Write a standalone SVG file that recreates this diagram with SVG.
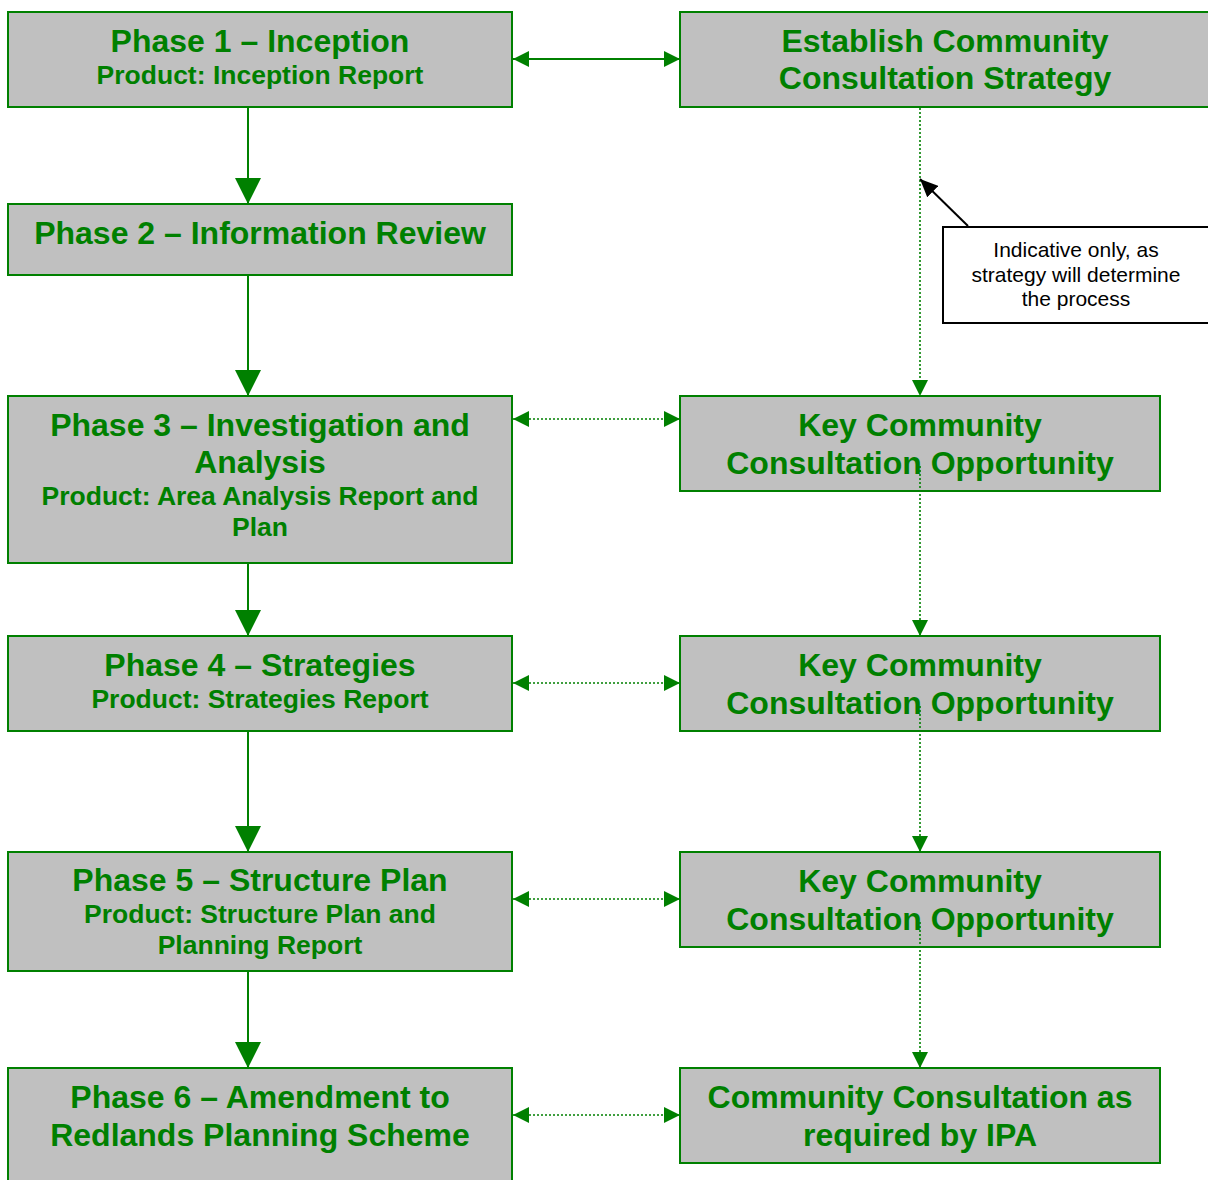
<svg xmlns="http://www.w3.org/2000/svg" width="1208" height="1180" viewBox="0 0 1208 1180">
<style>
.box{fill:#C0C0C0;stroke:#008000;stroke-width:2}
.t{font-family:"Liberation Sans",Arial,sans-serif;font-weight:bold;fill:#008000;text-anchor:middle}
.h{font-size:32px}
.s{font-size:26.5px}
.n{font-family:"Liberation Sans",Arial,sans-serif;font-size:21px;fill:#000;text-anchor:middle}
.solid{stroke:#008000;stroke-width:2;fill:none}
.dot{stroke:#008000;stroke-width:1.6;stroke-dasharray:2 2;fill:none}
</style>
<defs>
<marker id="big" markerUnits="userSpaceOnUse" markerWidth="26" markerHeight="26" refX="26" refY="13" orient="auto"><path d="M0,0 L26,13 L0,26 Z" fill="#008000"/></marker>
<marker id="sm" markerUnits="userSpaceOnUse" markerWidth="16" markerHeight="16" refX="16" refY="8" orient="auto-start-reverse"><path d="M0,0 L16,8 L0,16 Z" fill="#008000"/></marker>
<marker id="blk" markerUnits="userSpaceOnUse" markerWidth="18" markerHeight="16" refX="18" refY="8" orient="auto"><path d="M0,0 L18,8 L0,16 Z" fill="#000"/></marker>
</defs>
<g id="phase1"><rect class="box" x="8" y="12" width="504" height="95"/><text class="t h" x="260" y="52">Phase 1 – Inception</text><text class="t s" x="260" y="84">Product: Inception Report</text></g>
<g id="phase2"><rect class="box" x="8" y="204" width="504" height="71"/><text class="t h" x="260" y="244">Phase 2 – Information Review</text></g>
<g id="phase3"><rect class="box" x="8" y="396" width="504" height="167"/><text class="t h" x="260" y="436">Phase 3 – Investigation and</text><text class="t h" x="260" y="473">Analysis</text><text class="t s" x="260" y="505">Product: Area Analysis Report and</text><text class="t s" x="260" y="536">Plan</text></g>
<g id="phase4"><rect class="box" x="8" y="636" width="504" height="95"/><text class="t h" x="260" y="676">Phase 4 – Strategies</text><text class="t s" x="260" y="708">Product: Strategies Report</text></g>
<g id="phase5"><rect class="box" x="8" y="852" width="504" height="119"/><text class="t h" x="260" y="891">Phase 5 – Structure Plan</text><text class="t s" x="260" y="923">Product: Structure Plan and</text><text class="t s" x="260" y="954">Planning Report</text></g>
<g id="phase6"><rect class="box" x="8" y="1068" width="504" height="130"/><text class="t h" x="260" y="1108">Phase 6 – Amendment to</text><text class="t h" x="260" y="1146">Redlands Planning Scheme</text></g>
<g id="establish"><rect class="box" x="680" y="12" width="532" height="95"/><text class="t h" x="945" y="52">Establish Community</text><text class="t h" x="945" y="89">Consultation Strategy</text></g>
<g id="key1"><rect class="box" x="680" y="396" width="480" height="95"/><text class="t h" x="920" y="436">Key Community</text><text class="t h" x="920" y="474">Consultation Opportunity</text></g>
<g id="key2"><rect class="box" x="680" y="636" width="480" height="95"/><text class="t h" x="920" y="676">Key Community</text><text class="t h" x="920" y="714">Consultation Opportunity</text></g>
<g id="key3"><rect class="box" x="680" y="852" width="480" height="95"/><text class="t h" x="920" y="892">Key Community</text><text class="t h" x="920" y="930">Consultation Opportunity</text></g>
<g id="community"><rect class="box" x="680" y="1068" width="480" height="95"/><text class="t h" x="920" y="1108">Community Consultation as</text><text class="t h" x="920" y="1146">required by IPA</text></g>
<g id="note"><rect x="943" y="227" width="268" height="96" fill="#fff" stroke="#000" stroke-width="2"/><text class="n" x="1076" y="257">Indicative only, as</text><text class="n" x="1076" y="282">strategy will determine</text><text class="n" x="1076" y="306">the process</text></g>
<g id="connectors">
<line class="solid" x1="248" y1="108" x2="248" y2="204" marker-end="url(#big)"/>
<line class="solid" x1="248" y1="276" x2="248" y2="396" marker-end="url(#big)"/>
<line class="solid" x1="248" y1="564" x2="248" y2="636" marker-end="url(#big)"/>
<line class="solid" x1="248" y1="732" x2="248" y2="852" marker-end="url(#big)"/>
<line class="solid" x1="248" y1="972" x2="248" y2="1068" marker-end="url(#big)"/>
<line class="solid" x1="513" y1="59" x2="680" y2="59" marker-start="url(#sm)" marker-end="url(#sm)"/>
<line class="dot" x1="513" y1="419" x2="680" y2="419" marker-start="url(#sm)" marker-end="url(#sm)"/>
<line class="dot" x1="513" y1="683" x2="680" y2="683" marker-start="url(#sm)" marker-end="url(#sm)"/>
<line class="dot" x1="513" y1="899" x2="680" y2="899" marker-start="url(#sm)" marker-end="url(#sm)"/>
<line class="dot" x1="513" y1="1115" x2="680" y2="1115" marker-start="url(#sm)" marker-end="url(#sm)"/>
<line class="dot" x1="920" y1="108" x2="920" y2="396" marker-end="url(#sm)"/>
<line class="dot" x1="920" y1="466" x2="920" y2="636" marker-end="url(#sm)"/>
<line class="dot" x1="920" y1="706" x2="920" y2="852" marker-end="url(#sm)"/>
<line class="dot" x1="920" y1="922" x2="920" y2="1068" marker-end="url(#sm)"/>
<line x1="968" y1="226" x2="920" y2="179" stroke="#000" stroke-width="2" marker-end="url(#blk)"/>
</g>
</svg>
